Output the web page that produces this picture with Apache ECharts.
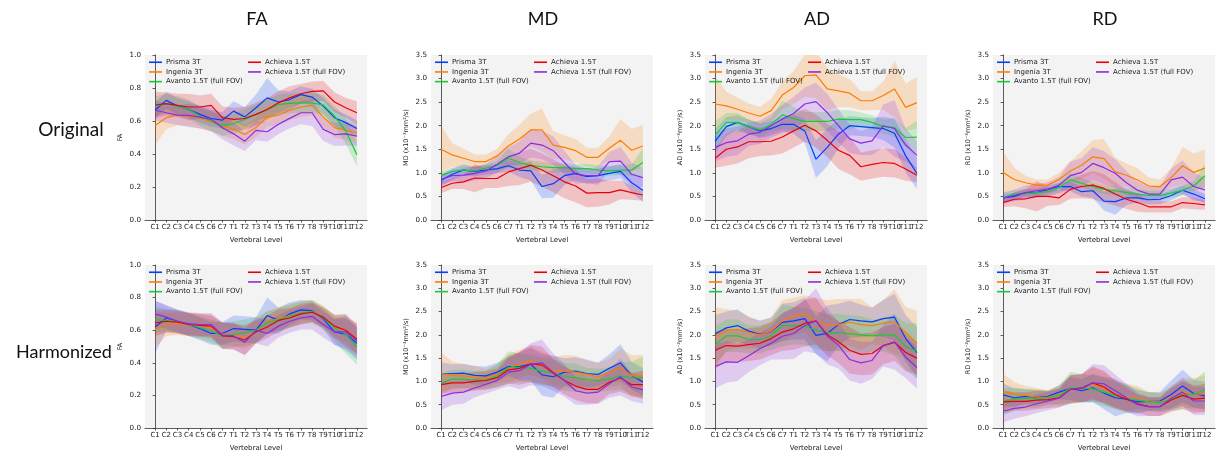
<!DOCTYPE html>
<html><head><meta charset="utf-8">
<script src="https://cdn.jsdelivr.net/npm/echarts@6/dist/echarts.min.js"></script>
<style>html,body{margin:0;padding:0;background:#fff}#c{width:1226px;height:453px}</style>
</head><body><div id="c"></div>
<script>
const CATS = ['C1','C2','C3','C4','C5','C6','C7','T1','T2','T3','T4','T5','T6','T7','T8','T9','T10','T11','T12'];
const SCANNERS = ['Prisma 3T','Ingenia 3T','Avanto 1.5T (full FOV)','Achieva 1.5T','Achieva 1.5T (full FOV)'];
const COLORS = ['#023eff','#ff7c00','#1ac938','#e8000b','#8b2be2'];
const METRICS = ['FA','MD','AD','RD'];
const ROWS = ['Original','Harmonized'];

// ---------- Original ----------
const FA_O_PRISMA  = [0.665,0.725,0.69,0.67,0.64,0.615,0.605,0.66,0.625,0.68,0.74,0.715,0.73,0.76,0.745,0.69,0.62,0.59,0.555];
const FA_O_INGENIA = [0.573,0.62,0.635,0.63,0.615,0.595,0.57,0.55,0.518,0.56,0.625,0.635,0.665,0.685,0.695,0.625,0.56,0.545,0.528];
const FA_O_AVANTO  = [0.69,0.705,0.69,0.67,0.63,0.6,0.57,0.583,0.61,0.64,0.67,0.70,0.707,0.71,0.71,0.697,0.63,0.54,0.396];
const FA_O_ACHIEVA = [0.697,0.705,0.695,0.685,0.685,0.695,0.62,0.61,0.615,0.64,0.67,0.71,0.74,0.765,0.78,0.783,0.715,0.68,0.65];
const FA_O_FULLFOV = [0.665,0.65,0.636,0.634,0.624,0.61,0.559,0.522,0.478,0.543,0.535,0.58,0.616,0.65,0.65,0.549,0.518,0.522,0.508];
const FA_O_PRISMA_SD  = [0.05,0.05,0.05,0.05,0.05,0.05,0.05,0.06,0.06,0.08,0.12,0.07,0.05,0.05,0.05,0.05,0.05,0.05,0.05];
const FA_O_INGENIA_SD = [0.12,0.07,0.06,0.06,0.06,0.06,0.06,0.06,0.06,0.06,0.06,0.06,0.06,0.06,0.06,0.06,0.06,0.06,0.06];
const FA_O_AVANTO_SD  = [0.06,0.06,0.06,0.06,0.06,0.06,0.06,0.06,0.06,0.06,0.06,0.06,0.06,0.06,0.06,0.06,0.06,0.08,0.07];
const FA_O_ACHIEVA_SD = [0.08,0.07,0.07,0.08,0.07,0.07,0.07,0.07,0.07,0.07,0.07,0.07,0.07,0.06,0.06,0.06,0.06,0.06,0.07];
const FA_O_FULLFOV_SD = [0.06,0.06,0.06,0.07,0.07,0.07,0.07,0.07,0.06,0.06,0.06,0.06,0.06,0.07,0.08,0.07,0.07,0.07,0.06];

const MD_O_PRISMA  = [0.84,0.97,1.06,1.03,1.06,1.09,1.15,1.06,1.04,0.71,0.77,0.94,0.99,0.92,0.94,0.99,1.03,0.79,0.63];
const MD_O_INGENIA = [1.50,1.38,1.31,1.24,1.24,1.36,1.57,1.72,1.91,1.91,1.59,1.54,1.47,1.33,1.33,1.52,1.69,1.48,1.57];
const MD_O_AVANTO  = [0.94,1.03,1.06,1.04,1.10,1.15,1.31,1.22,1.16,1.13,1.11,1.11,1.09,1.09,1.06,1.04,1.06,1.06,1.22];
const MD_O_ACHIEVA = [0.69,0.78,0.81,0.89,0.88,0.88,1.02,1.09,1.16,1.06,0.94,0.81,0.72,0.57,0.58,0.58,0.64,0.58,0.53];
const MD_O_FULLFOV = [0.86,0.94,0.95,0.99,1.04,1.18,1.34,1.42,1.63,1.59,1.47,1.22,0.97,0.94,0.94,1.24,1.25,0.97,0.90];
const MD_O_PRISMA_SD  = [0.12,0.12,0.12,0.1,0.1,0.1,0.12,0.15,0.2,0.25,0.3,0.2,0.15,0.15,0.15,0.15,0.15,0.2,0.25];
const MD_O_INGENIA_SD = [0.5,0.25,0.2,0.15,0.15,0.15,0.25,0.3,0.35,0.45,0.3,0.25,0.25,0.2,0.2,0.25,0.45,0.45,0.45];
const MD_O_AVANTO_SD  = [0.08,0.08,0.08,0.08,0.08,0.1,0.2,0.12,0.1,0.1,0.1,0.1,0.1,0.1,0.1,0.1,0.1,0.12,0.3];
const MD_O_ACHIEVA_SD = [0.12,0.12,0.15,0.3,0.2,0.2,0.3,0.35,0.35,0.35,0.35,0.35,0.35,0.3,0.3,0.25,0.2,0.15,0.12];
const MD_O_FULLFOV_SD = [0.12,0.12,0.15,0.15,0.15,0.18,0.2,0.25,0.3,0.3,0.3,0.25,0.2,0.15,0.2,0.2,0.3,0.25,0.2];

const AD_O_PRISMA  = [1.67,1.98,2.07,1.98,1.89,1.94,2.03,2.03,1.89,1.29,1.54,1.82,2.00,1.98,1.96,1.94,1.84,1.36,0.99];
const AD_O_INGENIA = [2.46,2.42,2.35,2.27,2.20,2.32,2.65,2.81,3.06,3.08,2.78,2.74,2.69,2.53,2.53,2.64,2.78,2.39,2.49];
const AD_O_AVANTO  = [1.80,2.07,2.07,1.98,1.91,2.03,2.23,2.15,2.09,2.09,2.09,2.14,2.13,2.13,2.07,1.98,1.96,1.75,1.76];
const AD_O_ACHIEVA = [1.31,1.50,1.55,1.66,1.66,1.67,1.76,1.89,2.01,1.89,1.69,1.48,1.37,1.13,1.18,1.22,1.20,1.08,0.95];
const AD_O_FULLFOV = [1.54,1.64,1.68,1.82,1.86,2.00,2.14,2.26,2.46,2.51,2.28,2.00,1.72,1.63,1.68,2.00,1.94,1.59,1.37];
const AD_O_PRISMA_SD  = [0.25,0.2,0.15,0.15,0.15,0.15,0.15,0.2,0.25,0.4,0.4,0.3,0.2,0.2,0.2,0.25,0.3,0.35,0.33];
const AD_O_INGENIA_SD = [0.6,0.3,0.25,0.2,0.2,0.25,0.3,0.35,0.45,0.5,0.45,0.35,0.3,0.2,0.2,0.3,0.6,0.5,0.55];
const AD_O_AVANTO_SD  = [0.3,0.2,0.2,0.15,0.15,0.15,0.3,0.25,0.2,0.2,0.2,0.2,0.2,0.15,0.15,0.15,0.2,0.2,0.35];
const AD_O_ACHIEVA_SD = [0.2,0.35,0.35,0.35,0.3,0.3,0.35,0.35,0.35,0.35,0.35,0.4,0.4,0.3,0.3,0.3,0.3,0.25,0.15];
const AD_O_FULLFOV_SD = [0.3,0.3,0.3,0.25,0.25,0.25,0.3,0.35,0.35,0.4,0.4,0.35,0.3,0.25,0.3,0.45,0.6,0.35,0.3];

const RD_O_PRISMA  = [0.47,0.50,0.58,0.58,0.65,0.71,0.71,0.60,0.62,0.40,0.39,0.47,0.47,0.43,0.44,0.52,0.63,0.55,0.45];
const RD_O_INGENIA = [1.01,0.86,0.79,0.74,0.74,0.86,1.04,1.16,1.34,1.30,1.02,0.95,0.85,0.72,0.71,0.90,1.15,1.01,1.10];
const RD_O_AVANTO  = [0.47,0.55,0.56,0.58,0.60,0.69,0.85,0.78,0.71,0.65,0.62,0.58,0.55,0.52,0.52,0.57,0.63,0.72,0.94];
const RD_O_ACHIEVA = [0.37,0.44,0.45,0.50,0.50,0.47,0.65,0.71,0.74,0.67,0.55,0.44,0.37,0.28,0.28,0.28,0.37,0.35,0.32];
const RD_O_FULLFOV = [0.47,0.52,0.58,0.62,0.65,0.74,0.94,1.01,1.20,1.11,0.99,0.79,0.63,0.55,0.55,0.85,0.91,0.71,0.64];
const RD_O_PRISMA_SD  = [0.08,0.08,0.08,0.08,0.08,0.08,0.1,0.1,0.15,0.2,0.28,0.15,0.1,0.1,0.1,0.1,0.1,0.1,0.1];
const RD_O_INGENIA_SD = [0.45,0.25,0.15,0.12,0.12,0.15,0.2,0.3,0.35,0.42,0.3,0.25,0.25,0.18,0.15,0.2,0.4,0.4,0.4];
const RD_O_AVANTO_SD  = [0.1,0.08,0.08,0.08,0.08,0.1,0.15,0.1,0.1,0.1,0.1,0.1,0.1,0.1,0.1,0.1,0.1,0.1,0.25];
const RD_O_ACHIEVA_SD = [0.1,0.15,0.2,0.32,0.2,0.15,0.2,0.25,0.3,0.3,0.25,0.2,0.2,0.12,0.12,0.12,0.12,0.12,0.1];
const RD_O_FULLFOV_SD = [0.12,0.12,0.15,0.15,0.15,0.18,0.3,0.3,0.35,0.35,0.3,0.25,0.18,0.15,0.15,0.25,0.35,0.3,0.25];

// ---------- Harmonized ----------
const FA_H_PRISMA  = [0.62,0.675,0.655,0.635,0.61,0.58,0.58,0.61,0.605,0.60,0.69,0.66,0.70,0.725,0.72,0.67,0.59,0.575,0.52];
const FA_H_INGENIA = [0.605,0.635,0.64,0.635,0.63,0.615,0.575,0.575,0.555,0.595,0.65,0.67,0.69,0.705,0.715,0.68,0.62,0.60,0.55];
const FA_H_AVANTO  = [0.665,0.66,0.655,0.635,0.615,0.595,0.565,0.575,0.585,0.60,0.645,0.665,0.685,0.705,0.715,0.675,0.615,0.575,0.50];
const FA_H_ACHIEVA = [0.645,0.655,0.65,0.635,0.63,0.625,0.565,0.56,0.54,0.59,0.62,0.66,0.675,0.70,0.71,0.68,0.625,0.60,0.545];
const FA_H_FULLFOV = [0.70,0.68,0.655,0.64,0.635,0.635,0.57,0.565,0.525,0.60,0.58,0.625,0.655,0.675,0.685,0.635,0.59,0.59,0.535];
const FA_H_PRISMA_SD  = [0.16,0.08,0.07,0.07,0.07,0.07,0.07,0.08,0.08,0.08,0.11,0.08,0.07,0.06,0.06,0.06,0.08,0.1,0.1];
const FA_H_INGENIA_SD = [0.11,0.07,0.07,0.07,0.07,0.07,0.07,0.07,0.07,0.07,0.07,0.07,0.07,0.07,0.07,0.07,0.07,0.07,0.1];
const FA_H_AVANTO_SD  = [0.08,0.07,0.07,0.07,0.07,0.07,0.08,0.08,0.08,0.08,0.07,0.07,0.07,0.07,0.07,0.07,0.08,0.12,0.11];
const FA_H_ACHIEVA_SD = [0.08,0.07,0.07,0.07,0.07,0.07,0.08,0.08,0.09,0.07,0.07,0.07,0.06,0.06,0.06,0.06,0.07,0.1,0.09];
const FA_H_FULLFOV_SD = [0.08,0.07,0.07,0.07,0.07,0.07,0.08,0.08,0.08,0.08,0.08,0.07,0.07,0.07,0.08,0.08,0.08,0.1,0.1];

const MD_H_PRISMA  = [1.16,1.17,1.18,1.13,1.12,1.20,1.32,1.32,1.37,1.14,1.10,1.20,1.22,1.17,1.15,1.28,1.40,1.12,0.99];
const MD_H_INGENIA = [1.17,1.13,1.12,1.08,1.07,1.15,1.28,1.38,1.45,1.35,1.22,1.22,1.20,1.15,1.10,1.18,1.30,1.12,1.12];
const MD_H_AVANTO  = [0.97,1.05,1.05,1.03,1.03,1.12,1.30,1.30,1.28,1.22,1.18,1.10,1.08,1.04,1.02,1.05,1.12,1.07,1.08];
const MD_H_ACHIEVA = [0.93,0.97,0.97,1.00,1.02,1.08,1.25,1.28,1.38,1.35,1.18,1.02,0.90,0.83,0.83,0.98,1.08,0.93,0.93];
const MD_H_FULLFOV = [0.68,0.75,0.77,0.86,0.94,1.02,1.20,1.23,1.37,1.40,1.20,1.02,0.80,0.75,0.77,0.95,1.10,0.88,0.82];
const MD_H_PRISMA_SD  = [0.25,0.2,0.2,0.2,0.2,0.2,0.2,0.3,0.35,0.45,0.45,0.3,0.3,0.3,0.25,0.3,0.4,0.3,0.3];
const MD_H_INGENIA_SD = [0.45,0.3,0.25,0.25,0.2,0.2,0.3,0.3,0.3,0.3,0.3,0.35,0.35,0.3,0.3,0.3,0.4,0.45,0.45];
const MD_H_AVANTO_SD  = [0.2,0.2,0.2,0.2,0.2,0.25,0.35,0.3,0.3,0.3,0.3,0.3,0.3,0.25,0.25,0.25,0.3,0.35,0.45];
const MD_H_ACHIEVA_SD = [0.2,0.2,0.2,0.2,0.2,0.2,0.3,0.35,0.4,0.4,0.3,0.3,0.3,0.3,0.3,0.25,0.3,0.25,0.3];
const MD_H_FULLFOV_SD = [0.3,0.25,0.25,0.2,0.2,0.2,0.3,0.4,0.45,0.5,0.4,0.35,0.3,0.25,0.25,0.3,0.4,0.3,0.3];

const AD_H_PRISMA  = [2.02,2.15,2.20,2.08,2.01,2.07,2.27,2.30,2.35,1.99,2.03,2.22,2.33,2.30,2.28,2.35,2.38,1.92,1.62];
const AD_H_INGENIA = [1.95,2.10,2.12,2.05,2.00,2.08,2.30,2.40,2.45,2.28,2.20,2.22,2.27,2.22,2.20,2.25,2.28,2.05,1.82];
const AD_H_AVANTO  = [1.78,1.98,1.98,1.90,1.90,1.98,2.20,2.20,2.18,2.10,2.05,2.05,2.02,2.00,1.98,2.00,2.00,1.75,1.65];
const AD_H_ACHIEVA = [1.67,1.77,1.76,1.79,1.82,1.92,2.06,2.13,2.25,2.30,2.00,1.85,1.67,1.58,1.60,1.77,1.84,1.62,1.50];
const AD_H_FULLFOV = [1.32,1.42,1.41,1.55,1.70,1.82,1.97,2.03,2.20,2.30,1.97,1.78,1.47,1.40,1.45,1.77,1.85,1.52,1.30];
const AD_H_PRISMA_SD  = [0.4,0.35,0.35,0.3,0.3,0.3,0.4,0.4,0.45,0.4,0.6,0.45,0.4,0.35,0.3,0.4,0.5,0.5,0.55];
const AD_H_INGENIA_SD = [0.65,0.45,0.4,0.35,0.3,0.3,0.45,0.4,0.4,0.5,0.55,0.55,0.5,0.55,0.4,0.5,0.7,0.55,0.7];
const AD_H_AVANTO_SD  = [0.4,0.35,0.35,0.3,0.3,0.3,0.45,0.4,0.4,0.4,0.4,0.4,0.4,0.4,0.35,0.35,0.45,0.5,0.6];
const AD_H_ACHIEVA_SD = [0.4,0.35,0.35,0.35,0.35,0.35,0.4,0.45,0.5,0.5,0.45,0.45,0.5,0.45,0.45,0.4,0.4,0.4,0.35];
const AD_H_FULLFOV_SD = [0.47,0.45,0.4,0.35,0.35,0.35,0.5,0.55,0.55,0.7,0.6,0.5,0.45,0.45,0.4,0.45,0.6,0.45,0.45];

const RD_H_PRISMA  = [0.71,0.65,0.68,0.66,0.68,0.77,0.85,0.80,0.86,0.75,0.65,0.62,0.56,0.57,0.58,0.72,0.90,0.74,0.69];
const RD_H_INGENIA = [0.77,0.73,0.70,0.66,0.66,0.72,0.85,0.86,0.95,0.85,0.72,0.65,0.65,0.58,0.55,0.65,0.78,0.72,0.74];
const RD_H_AVANTO  = [0.57,0.62,0.64,0.63,0.65,0.70,0.86,0.86,0.84,0.77,0.70,0.63,0.60,0.56,0.54,0.62,0.72,0.72,0.82];
const RD_H_ACHIEVA = [0.56,0.57,0.57,0.60,0.61,0.65,0.83,0.85,0.97,0.88,0.72,0.62,0.52,0.46,0.46,0.60,0.70,0.62,0.64];
const RD_H_FULLFOV = [0.36,0.42,0.45,0.52,0.58,0.64,0.83,0.86,0.97,0.95,0.80,0.65,0.50,0.46,0.46,0.64,0.77,0.58,0.58];
const RD_H_PRISMA_SD  = [0.25,0.2,0.15,0.15,0.12,0.15,0.25,0.25,0.3,0.35,0.4,0.3,0.25,0.2,0.2,0.3,0.35,0.3,0.3];
const RD_H_INGENIA_SD = [0.4,0.25,0.2,0.2,0.15,0.2,0.3,0.3,0.35,0.35,0.3,0.3,0.25,0.2,0.2,0.25,0.3,0.35,0.4];
const RD_H_AVANTO_SD  = [0.3,0.25,0.2,0.2,0.15,0.2,0.35,0.3,0.3,0.3,0.3,0.3,0.25,0.2,0.2,0.25,0.3,0.3,0.4];
const RD_H_ACHIEVA_SD = [0.25,0.2,0.2,0.2,0.18,0.2,0.3,0.3,0.35,0.35,0.3,0.25,0.2,0.2,0.2,0.25,0.3,0.3,0.3];
const RD_H_FULLFOV_SD = [0.24,0.22,0.2,0.2,0.2,0.2,0.3,0.3,0.4,0.4,0.35,0.3,0.25,0.2,0.2,0.25,0.3,0.3,0.3];

// ---------- assemble ----------
const PANELS = [
  {m:'FA', row:0, mean:[FA_O_PRISMA,FA_O_INGENIA,FA_O_AVANTO,FA_O_ACHIEVA,FA_O_FULLFOV], sd:[FA_O_PRISMA_SD,FA_O_INGENIA_SD,FA_O_AVANTO_SD,FA_O_ACHIEVA_SD,FA_O_FULLFOV_SD]},
  {m:'MD', row:0, mean:[MD_O_PRISMA,MD_O_INGENIA,MD_O_AVANTO,MD_O_ACHIEVA,MD_O_FULLFOV], sd:[MD_O_PRISMA_SD,MD_O_INGENIA_SD,MD_O_AVANTO_SD,MD_O_ACHIEVA_SD,MD_O_FULLFOV_SD]},
  {m:'AD', row:0, mean:[AD_O_PRISMA,AD_O_INGENIA,AD_O_AVANTO,AD_O_ACHIEVA,AD_O_FULLFOV], sd:[AD_O_PRISMA_SD,AD_O_INGENIA_SD,AD_O_AVANTO_SD,AD_O_ACHIEVA_SD,AD_O_FULLFOV_SD]},
  {m:'RD', row:0, mean:[RD_O_PRISMA,RD_O_INGENIA,RD_O_AVANTO,RD_O_ACHIEVA,RD_O_FULLFOV], sd:[RD_O_PRISMA_SD,RD_O_INGENIA_SD,RD_O_AVANTO_SD,RD_O_ACHIEVA_SD,RD_O_FULLFOV_SD]},
  {m:'FA', row:1, mean:[FA_H_PRISMA,FA_H_INGENIA,FA_H_AVANTO,FA_H_ACHIEVA,FA_H_FULLFOV], sd:[FA_H_PRISMA_SD,FA_H_INGENIA_SD,FA_H_AVANTO_SD,FA_H_ACHIEVA_SD,FA_H_FULLFOV_SD]},
  {m:'MD', row:1, mean:[MD_H_PRISMA,MD_H_INGENIA,MD_H_AVANTO,MD_H_ACHIEVA,MD_H_FULLFOV], sd:[MD_H_PRISMA_SD,MD_H_INGENIA_SD,MD_H_AVANTO_SD,MD_H_ACHIEVA_SD,MD_H_FULLFOV_SD]},
  {m:'AD', row:1, mean:[AD_H_PRISMA,AD_H_INGENIA,AD_H_AVANTO,AD_H_ACHIEVA,AD_H_FULLFOV], sd:[AD_H_PRISMA_SD,AD_H_INGENIA_SD,AD_H_AVANTO_SD,AD_H_ACHIEVA_SD,AD_H_FULLFOV_SD]},
  {m:'RD', row:1, mean:[RD_H_PRISMA,RD_H_INGENIA,RD_H_AVANTO,RD_H_ACHIEVA,RD_H_FULLFOV], sd:[RD_H_PRISMA_SD,RD_H_INGENIA_SD,RD_H_AVANTO_SD,RD_H_ACHIEVA_SD,RD_H_FULLFOV_SD]}
];

const GRID_LEFT = [145, 431, 705, 993];
const GRID_W = 222;
const ROW_TOP = [55, 265];
const ROW_H = [165, 163];
const FONT = 'DejaVu Sans';
const TITLE_FONT = 'Lato';
const EVEN_TICKS = CATS.map((c, i) => i).filter(i => i % 2 === 0);
const ODD_TICKS = CATS.map((c, i) => i).filter(i => i % 2 === 1);

const grids = [], xAxes = [], yAxes = [], series = [], legends = [], graphics = [];

function bandSeries(xi, yi, color, lo, hi) {
  return {
    type: 'custom', xAxisIndex: xi, yAxisIndex: yi, silent: true, z: 1, clip: true,
    data: lo.map((v, i) => [i, v, hi[i]]),
    encode: {x: 0, y: [1, 2]},
    renderItem: function (params, api) {
      if (params.dataIndex !== 0) return null;
      const pts = [];
      for (let i = 0; i < lo.length; i++) pts.push(api.coord([i, lo[i]]));
      for (let i = hi.length - 1; i >= 0; i--) pts.push(api.coord([i, hi[i]]));
      return {type: 'polygon', shape: {points: pts}, style: {fill: color, opacity: 0.2}};
    }
  };
}

function xAxisDef(pi, ticks, withName) {
  return {
    type: 'value', gridIndex: pi, min: -0.9, max: 18.9, position: 'bottom',
    name: withName ? 'Vertebral Level' : '', nameLocation: 'middle', nameGap: 17,
    nameTextStyle: {fontFamily: FONT, fontSize: 7, color: '#222'},
    axisLine: {show: withName, onZero: false, lineStyle: {color: '#333', width: 0.8}},
    axisTick: {show: true, length: 2.5, customValues: ticks, lineStyle: {color: '#333', width: 0.8}},
    axisLabel: {show: true, customValues: ticks, formatter: v => CATS[Math.round(v)], fontFamily: FONT, fontSize: 7, color: '#222', margin: 4,
      hideOverlap: false, showMinLabel: true, showMaxLabel: true},
    splitLine: {show: false}
  };
}

PANELS.forEach((p, pi) => {
  const col = pi % 4;
  const left = GRID_LEFT[col], top = ROW_TOP[p.row], h = ROW_H[p.row];
  grids.push({left: left, top: top, width: GRID_W, height: h, show: true, backgroundColor: '#f3f3f3', borderWidth: 0, containLabel: false});
  const xi = xAxes.length;
  xAxes.push(xAxisDef(pi, EVEN_TICKS, true));
  xAxes.push(xAxisDef(pi, ODD_TICKS, false));
  const isFA = p.m === 'FA';
  yAxes.push({
    type: 'value', gridIndex: pi, min: 0, max: isFA ? 1 : 3.5, interval: isFA ? 0.2 : 0.5,
    name: isFA ? 'FA' : p.m + ' (x10\u207B\u00B3mm\u00B2/s)', nameLocation: 'middle', nameGap: 21, nameRotate: 90,
    nameTextStyle: {fontFamily: FONT, fontSize: 6.5, color: '#222'},
    axisLine: {show: true, lineStyle: {color: '#333', width: 0.8}},
    axisTick: {show: true, length: 2.5, lineStyle: {color: '#333', width: 0.8}},
    axisLabel: {formatter: v => v.toFixed(1), fontFamily: FONT, fontSize: 7.2, color: '#222', margin: 4},
    splitLine: {show: false}
  });
  p.mean.forEach((mean, si) => {
    const sd = p.sd[si];
    const lo = mean.map((v, i) => v - sd[i]);
    const hi = mean.map((v, i) => v + sd[i]);
    series.push(bandSeries(xi, pi, COLORS[si], lo, hi));
  });
  p.mean.forEach((mean, si) => {
    series.push({
      name: SCANNERS[si], type: 'line', xAxisIndex: xi, yAxisIndex: pi, symbol: 'none',
      data: mean.map((v, i) => [i, v]), color: COLORS[si],
      lineStyle: {color: COLORS[si], width: 1.2}, z: 3
    });
  });
  const legCommon = {
    orient: 'vertical', top: top + 3, itemWidth: 13, itemHeight: 1.6, itemGap: 1.2, icon: 'rect',
    selectedMode: false, padding: 0,
    textStyle: {fontFamily: FONT, fontSize: 7, color: '#222', lineHeight: 8.5, padding: [0, 0, 0, -1]}
  };
  legends.push(Object.assign({}, legCommon, {left: left + 4, data: SCANNERS.slice(0, 3)}));
  legends.push(Object.assign({}, legCommon, {left: left + 103, data: SCANNERS.slice(3)}));
});

METRICS.forEach((m, c) => {
  graphics.push({type: 'text', x: GRID_LEFT[c] + GRID_W / 2 + 1, y: 19,
    style: {text: m, font: '18px ' + TITLE_FONT, fill: '#111', textAlign: 'center', textVerticalAlign: 'middle'}});
});
graphics.push({type: 'text', x: 71, y: 130, style: {text: ROWS[0], font: '19px ' + TITLE_FONT, fill: '#111', textAlign: 'center', textVerticalAlign: 'middle'}});
graphics.push({type: 'text', x: 64, y: 352, style: {text: ROWS[1], font: '18px ' + TITLE_FONT, fill: '#111', textAlign: 'center', textVerticalAlign: 'middle'}});

const chart = echarts.init(document.getElementById('c'));
chart.setOption({
  backgroundColor: '#fff',
  animation: false,
  grid: grids, xAxis: xAxes, yAxis: yAxes, series: series, legend: legends, graphic: graphics
});
</script></body></html>
